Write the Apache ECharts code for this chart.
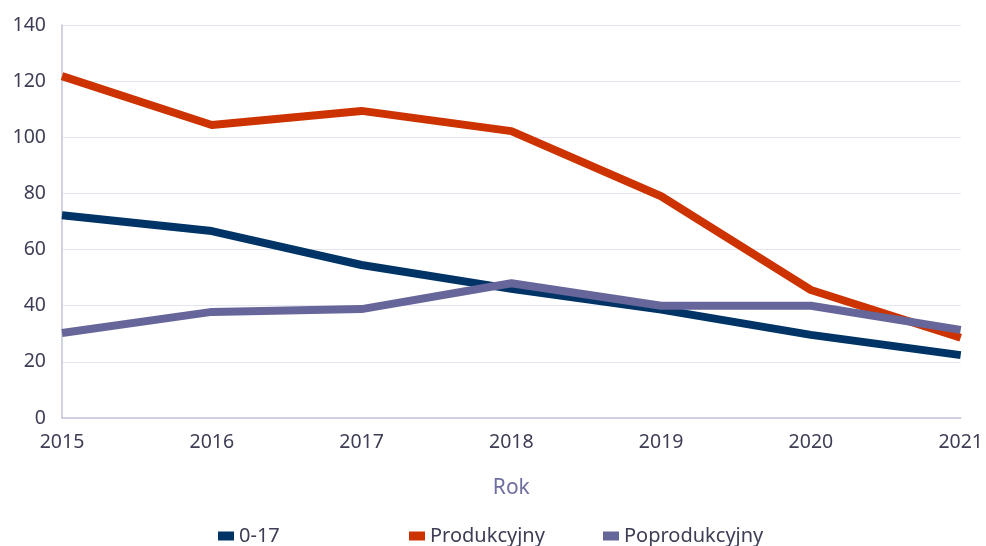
<!DOCTYPE html>
<html><head><meta charset="utf-8">
<script src="https://cdn.jsdelivr.net/npm/echarts@6/dist/echarts.min.js"></script>
<style>html,body{margin:0;padding:0;background:#fff}#c{width:986px;height:546px}</style>
</head><body><div id="c"></div>
<script>
const years = ['2015','2016','2017','2018','2019','2020','2021'];
const s017 = [72.2, 66.6, 54.5, 46.0, 38.6, 29.6, 22.4];
const sProd = [121.8, 104.4, 109.4, 102.2, 79.0, 45.6, 28.6];
const sPop = [30.3, 37.8, 38.8, 48.0, 40.0, 40.0, 31.4];
const names = ['0-17','Produkcyjny','Poprodukcyjny'];
const colors = ['#003466','#cc3300','#66669a'];
const font = 'Noto Sans';
const txt = '#3d3d55';
const chart = echarts.init(document.getElementById('c'));
const mk = (i, data) => ({name: names[i], type:'line', data, symbol:'none', color: colors[i],
  lineStyle:{width:8, color: colors[i], cap:'butt', join:'round'}});
const legPos = [213, 404, 598];
chart.setOption({
  animation:false,
  grid:{left:62, right:22, top:25, bottom:128},
  legend: names.map((n,i)=>({data:[n], left:legPos[i], top:521, itemWidth:16, itemHeight:9, icon:'rect', itemGap:8,
    textStyle:{fontFamily:font, fontSize:20, color:txt}})),
  xAxis:{type:'category', data:years, boundaryGap:false, name:'Rok', nameLocation:'middle', nameGap:60,
    nameTextStyle:{fontFamily:font, fontSize:21, color:'#6e6ea0'},
    axisLine:{lineStyle:{color:'#c3c5d8', width:1.5}}, axisTick:{show:false},
    axisLabel:{fontFamily:font, fontSize:19.5, color:txt, margin:14}},
  yAxis:{type:'value', min:0, max:140, interval:20,
    axisLine:{show:true, lineStyle:{color:'#c3c5d8', width:1.5}},
    splitLine:{lineStyle:{color:'#e4e5ee', width:1}},
    axisLabel:{fontFamily:font, fontSize:19.5, color:txt, margin:16}},
  series:[mk(0,s017), mk(1,sProd), mk(2,sPop)]
});
</script></body></html>
